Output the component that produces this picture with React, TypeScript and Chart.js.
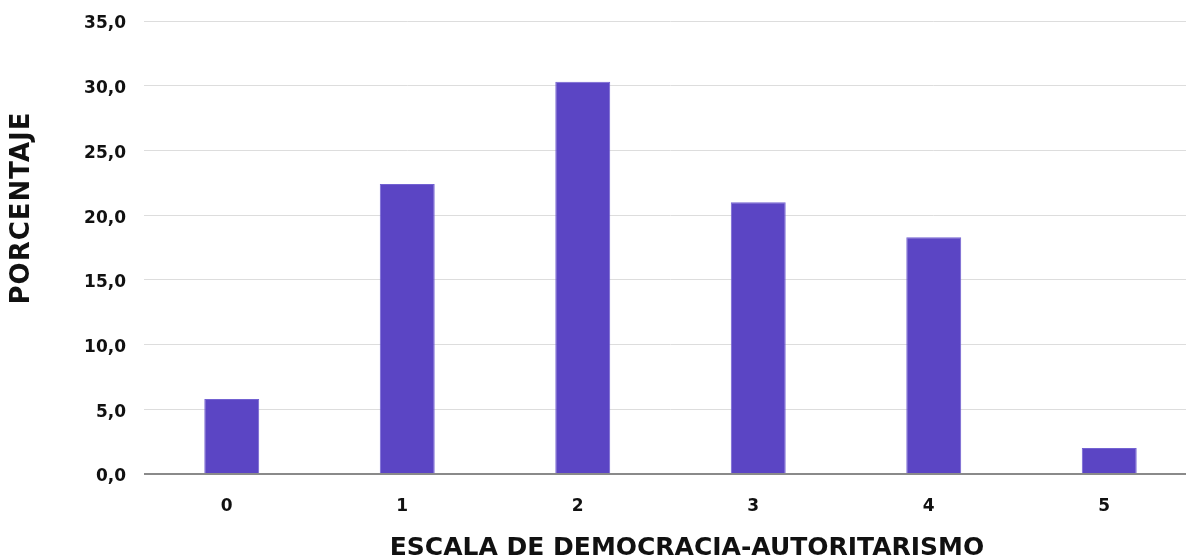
import React, { useEffect, useRef } from "react";
import { Chart, registerables } from "chart.js";

Chart.register(...registerables);

const categories = ["0", "1", "2", "3", "4", "5"];
const percentages = [5.8, 22.4, 30.3, 21.0, 18.3, 2.0];
const yMin = 0;
const yMax = 35;
const yStep = 5;
const xTitle = "ESCALA DE DEMOCRACIA-AUTORITARISMO";
const yTitle = "PORCENTAJE";

const FONT = "'DejaVu Sans', sans-serif";

const titlesPlugin = {
  id: "axisTitles",
  afterDraw(chart: any) {
    const ctx = chart.ctx;
    ctx.save();
    ctx.fillStyle = "#111111";
    ctx.font = `bold 25px ${FONT}`;
    ctx.textAlign = "center";
    ctx.textBaseline = "middle";
    ctx.fillText(xTitle, 687, 548);
    ctx.translate(22, 208);
    ctx.rotate(-Math.PI / 2);
    ctx.font = `bold 26px ${FONT}`;
    try {
      (ctx as any).letterSpacing = "1px";
    } catch (e) {}
    ctx.fillText(yTitle, 0, 0);
    ctx.restore();
  },
};

export default function App() {
  const ref = useRef<HTMLCanvasElement>(null);
  useEffect(() => {
    if (!ref.current) return;
    const chart = new Chart(ref.current, {
      type: "bar",
      data: {
        labels: categories,
        datasets: [
          {
            data: percentages,
            backgroundColor: "#5B45C4",
            borderColor: "#7362d2",
            borderWidth: 1,
            barPercentage: 0.313,
            categoryPercentage: 1,
          },
        ],
      },
      options: {
        responsive: false,
        animation: false,
        layout: { padding: { top: 21, right: 3, bottom: 0, left: 0 } },
        plugins: { legend: { display: false }, tooltip: { enabled: false } },
        scales: {
          x: {
            grid: { display: false, drawTicks: false },
            border: { display: false },
            ticks: {
              color: "#111111",
              font: { family: FONT, size: 17, weight: "bold" },
              padding: 22,
              labelOffset: -5,
            },
            afterFit: (s: any) => {
              s.height = 84;
              s.paddingLeft = 0;
              s.paddingRight = 0;
            },
          },
          y: {
            min: yMin,
            max: yMax,
            border: { display: false },
            grid: {
              drawTicks: false,
              color: (c: any) => (c.tick && c.tick.value === 0 ? "#8a8a8a" : "#dddddd"),
              lineWidth: (c: any) => (c.tick && c.tick.value === 0 ? 2 : 1),
            },
            ticks: {
              stepSize: yStep,
              color: "#111111",
              font: { family: FONT, size: 17, weight: "bold" },
              padding: 18,
              labelOffset: 3,
              callback: (v: any) => Number(v).toFixed(1).replace(".", ","),
            },
            afterFit: (s: any) => {
              s.width = 144;
              s.paddingTop = 0;
              s.paddingBottom = 0;
            },
          },
        },
      },
      plugins: [titlesPlugin],
    });
    return () => chart.destroy();
  }, []);
  return (
    <div style={{ width: 1186, height: 558, overflow: "hidden", position: "relative" }}>
      <style>{`body{margin:0;overflow:hidden;background:#fff}`}</style>
      <canvas ref={ref} width={1200} height={558} style={{ display: "block" }} />
    </div>
  );
}
